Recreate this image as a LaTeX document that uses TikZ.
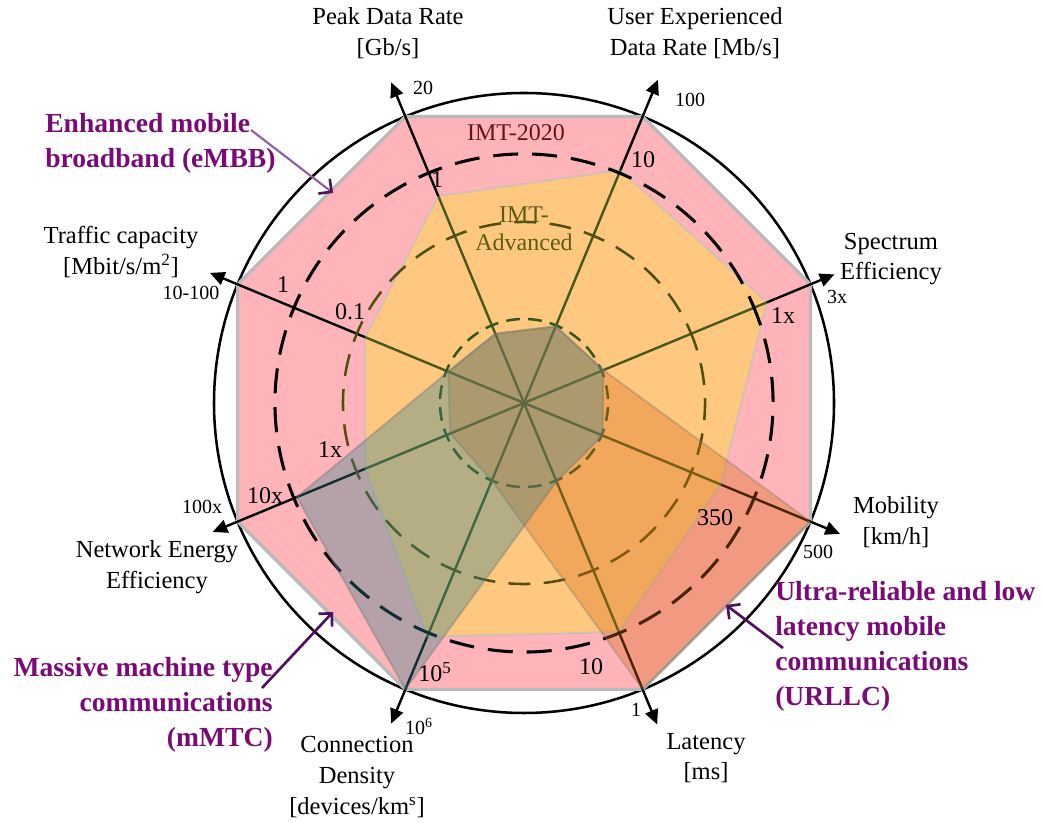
\documentclass[tikz,border=0pt]{standalone}
\usepackage{fontspec}
\setmainfont{Liberation Serif}
\usetikzlibrary{calc,arrows.meta}

\definecolor{pinkfill}{RGB}{255,180,185}
\definecolor{orangefill}{RGB}{255,200,128}
\definecolor{mmtcfill}{RGB}{50,130,140}
\definecolor{urllcfill}{RGB}{215,106,25}
\definecolor{axisolive}{RGB}{72,88,26}
\definecolor{ringolive}{RGB}{80,80,14}
\definecolor{ringgreen}{RGB}{52,88,28}
\definecolor{imtred}{RGB}{110,16,32}
\definecolor{imtolive}{RGB}{92,92,18}
\definecolor{usecase}{RGB}{122,10,118}
\definecolor{pointer}{RGB}{80,16,96}
\definecolor{pointerlight}{RGB}{142,96,160}

\begin{document}
\begin{tikzpicture}[x=0.75pt,y=0.75pt,
  axisout/.style={line width=1.8pt, black},
  axisin/.style={line width=1.8pt, axisolive},
  axistip/.style={-{Triangle[length=11pt,width=10pt]}},
  ringimt/.style={line width=2.3pt, black, dash pattern=on 18.75pt off 10.47pt, dash phase=9.37pt},
  ringmid/.style={line width=1.9pt, ringolive, dash pattern=on 16.5pt off 10pt, dash phase=8.25pt},
  ringin/.style={line width=1.9pt, ringgreen, dash pattern=on 10.3pt off 6.19pt, dash phase=5.15pt},
  axislabel/.style={inner sep=0pt, align=center, font=\fontsize{18.4}{23}\selectfont},
  tickout/.style={inner sep=0pt, font=\fontsize{15}{18}\selectfont},
  tickin/.style={inner sep=0pt, font=\fontsize{18}{21}\selectfont},
  usecaselabel/.style={inner sep=0pt, text=usecase, font=\fontsize{20.7}{26.25}\selectfont\bfseries},
  pointerarrow/.style={line width=2pt, pointer, -{Straight Barb[length=7pt,width=14pt,line width=2pt]}}
]
\useasboundingbox (0,0) rectangle (1042,823);
\coordinate (C) at (524,420);

% axis name / angle / IMT-2020 eMBB radius / IMT-Advanced radius / arrow length
\foreach \n/\a/\rp/\rc/\rt in {pk/112.5/224/75/347, ue/67.5/252/83/350, se/22.5/263/86/336,
    mo/-22.5/213/85/342, la/-67.5/248/85/348, cd/-112.5/253/84/347, ne/-157.5/172/80/337,
    tc/157.5/172/82/340}{
  \coordinate (o-\n) at ($(C)+(\a:310)$);
  \coordinate (p-\n) at ($(C)+(\a:\rp)$);
  \coordinate (c-\n) at ($(C)+(\a:\rc)$);
  \coordinate (t-\n) at ($(C)+(\a:\rt)$);
}
\coordinate (g-ne) at ($(C)+(-157.5:246)$);

% outer boundary circle
\draw[line width=1.9pt] (C) circle[radius=310];

% IMT-2020 envelope
\filldraw[fill=pinkfill, draw=black!27, line width=2.4pt, line join=round]
  (o-pk) -- (o-ue) -- (o-se) -- (o-mo) -- (o-la) -- (o-cd) -- (o-ne) -- (o-tc) -- cycle;

% eMBB requirements
\filldraw[fill=orangefill, draw=black!25, draw opacity=0.6, line width=1.6pt, line join=round]
  (p-pk) -- (p-ue) -- (p-se) -- (p-mo) -- (p-la) -- (p-cd) -- (p-ne) -- (p-tc) -- cycle;

% axes
\foreach \n in {pk,ue,se,mo,la,cd,ne,tc}{
  \draw[axisout, axistip] (p-\n) -- (t-\n);
  \draw[axisin] (C) -- (p-\n);
}

% reference rings
\draw[ringimt] ($(C)+(22.5:249)$) arc[start angle=22.5, delta angle=360, radius=249];
\draw[ringmid] ($(C)+(22.5:181)$) arc[start angle=22.5, delta angle=360, radius=181];
\draw[ringin] ($(C)+(22.5:84)$) arc[start angle=22.5, delta angle=360, radius=84];

% URLLC and mMTC overlays
\filldraw[fill=urllcfill, fill opacity=0.35, draw=black!55, draw opacity=0.3, line width=1.5pt, line join=round]
  (c-pk) -- (c-ue) -- (c-se) -- (o-mo) -- (o-la) -- (c-cd) -- (c-ne) -- (c-tc) -- cycle;
\filldraw[fill=mmtcfill, fill opacity=0.36, draw=black!55, draw opacity=0.35, line width=1.5pt, line join=round]
  (c-pk) -- (c-ue) -- (c-se) -- (c-mo) -- (c-la) -- (o-cd) -- (g-ne) -- (c-tc) -- cycle;

% ring titles
\node[inner sep=0pt, text=imtred, font=\fontsize{18}{21}\selectfont] (imt2020) at (516,690) {IMT-2020};
\node[inner sep=0pt, align=center, text=imtolive, font=\fontsize{18}{21}\selectfont] (imtadv) at (524,594) {IMT-\\Advanced};

% axis titles
\node[axislabel] (lab-pk) at (388,790) {Peak Data Rate\\{[Gb/s]}};
\node[axislabel] (lab-ue) at (695,790) {User Experienced\\Data Rate [Mb/s]};
\node[axislabel] (lab-se) at (891,564) {Spectrum\\Efficiency};
\node[axislabel] (lab-mo) at (896,301) {Mobility\\{[km/h]}};
\node[axislabel] (lab-la) at (706,65) {Latency\\{[ms]}};
\node[axislabel] (lab-cd) at (357,46) {Connection\\Density\\{[devices/km\textsuperscript{s}]}};
\node[axislabel] (lab-ne) at (157,256) {Network Energy\\Efficiency};
\node[axislabel] (lab-tc) at (121,571) {Traffic capacity\\{[Mbit/s/m\textsuperscript{2}]}};

% axis values: outer (IMT-2020)
\node[tickout] (v-pk) at (423,735) {20};
\node[tickout] (v-ue) at (690,723) {100};
\node[tickout] (v-se) at (837,526) {3x};
\node[tickout] (v-mo) at (818,271) {500};
\node[tickout] (v-la) at (636,113) {1};
\node[tickout] (v-cd) at (419,97) {10\textsuperscript{6}};
\node[tickout] (v-ne) at (202,316) {100x};
\node[tickout] (v-tc) at (191,530) {10-100};

% axis values: inner (IMT-Advanced)
\node[tickin] (w-pk) at (437,643) {1};
\node[tickin] (w-ue) at (643,663) {10};
\node[tickin] (w-se) at (783,507) {1x};
\node[tickin] (w-mo) at (715,305) {350};
\node[tickin] (w-la) at (591,156) {10};
\node[tickin] (w-cd) at (435,151) {10\textsuperscript{5}};
\node[tickin] (w-ne) at (265,327) {10x};
\node[tickin] (w-ne2) at (330,373) {1x};
\node[tickin] (w-tc) at (283,538) {1};
\node[tickin] (w-tc2) at (350,511) {0.1};

% usage scenarios
\node[usecaselabel, anchor=west, align=left] (embb) at (45,680) {Enhanced mobile\\broadband (eMBB)};
\node[usecaselabel, anchor=east, align=right] (mmtc) at (273,118) {Massive machine type\\communications\\(mMTC)};
\node[usecaselabel, anchor=west, align=left] (urllc) at (775,177) {Ultra-reliable and low\\latency mobile\\communications\\(URLLC)};

\coordinate (embb-from) at (251,693);
\coordinate (embb-to) at (333,630);
\coordinate (mmtc-from) at (262,135);
\coordinate (mmtc-to) at (333,211);
\coordinate (urllc-from) at (783,175);
\coordinate (urllc-to) at (726,218);

\draw[line width=1.6pt, pointerlight, -{Straight Barb[length=7pt,width=14pt,line width=2pt,color=pointer]}] (embb-from) -- (embb-to);
\draw[pointerarrow] (mmtc-from) -- (mmtc-to);
\draw[pointerarrow] (urllc-from) -- (urllc-to);
\end{tikzpicture}
\end{document}
